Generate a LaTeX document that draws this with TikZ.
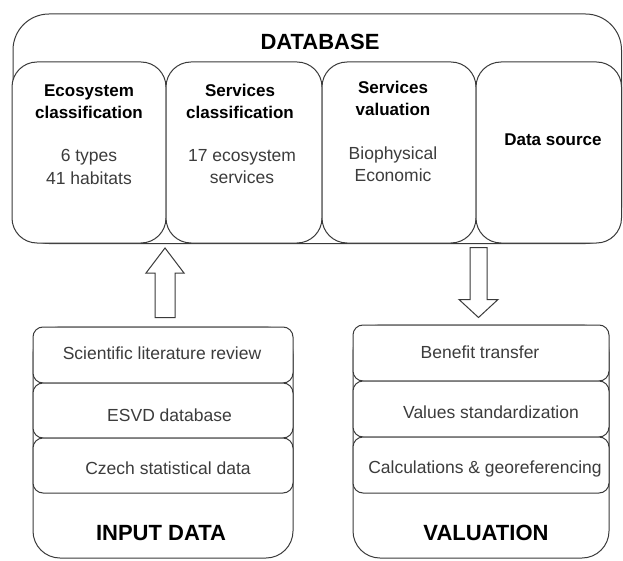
\documentclass[tikz,border=0pt]{standalone}
\usepackage{fontspec}
\setmainfont{Liberation Sans}
\usetikzlibrary{calc}
\definecolor{linec}{HTML}{3A3A3A}
\definecolor{txtc}{HTML}{3C3C3C}
\tikzset{
  line/.style={draw=linec, line width=1pt},
  dbouter/.style={line, rounded corners=36pt, minimum width=608.5pt, minimum height=229.5pt, inner sep=0pt},
  cell/.style={line, fill=white, rounded corners=25pt, minimum height=181pt, inner sep=0pt},
  stack/.style={line, rounded corners=27pt, inner sep=0pt},
  rowbox/.style={line, fill=white, rounded corners=10pt, inner sep=0pt},
  head/.style={font=\bfseries\fontsize{17}{22.5}\selectfont, align=center, inner sep=0pt, text=black},
  body/.style={font=\fontsize{17.5}{22.5}\selectfont, align=center, inner sep=0pt, text=txtc},
  title/.style={font=\bfseries\fontsize{22}{26}\selectfont, inner sep=0pt, text=black},
  hollow/.style={line, fill=white, line join=miter},
}
\newcommand\hollowarrow[5]{%
  \draw[hollow] let \p1=(#1), \p2=(#2), \p3=($(#2)!#5!(#1)$) in
    (\x1-#3,\y1) -- (\x1-#3,\y3) -- (\x1-#4,\y3) -- (\x2,\y2) --
    (\x1+#4,\y3) -- (\x1+#3,\y3) -- (\x1+#3,\y1) -- cycle;}
\begin{document}
\begin{tikzpicture}[x=1pt, y=-1pt]
\useasboundingbox (0,0) rectangle (623,561);
% DATABASE
\node[dbouter] (db) at (317.25,128.75) {};
\node[title] (dbt) at (320,42) {DATABASE};
\node[cell, minimum width=154pt] (c1) at (89,152.5) {};
\node[cell, minimum width=156pt] (c2) at (244,152.5) {};
\node[cell, minimum width=154pt] (c3) at (399,152.5) {};
\node[cell, minimum width=145.5pt] (c4) at (548.75,152.5) {};
\node[head] (h1) at (89,101.5) {Ecosystem\\classification};
\node[body] (b1) at (89,167) {6 types\\41 habitats};
\node[head] (h2) at (240,101.5) {Services\\classification};
\node[body] (b2) at (242,166.5) {17 ecosystem\\services};
\node[head] (h3) at (393,98.5) {Services\\valuation};
\node[body] (b3) at (393,164) {Biophysical\\Economic};
\node[head] (h4) at (553,140) {Data source};
% INPUT DATA
\node[stack, minimum width=260pt, minimum height=231pt] (inp) at (163,442.5) {};
\node[rowbox, minimum width=260pt, minimum height=56pt] (r1) at (163,355) {};
\node[rowbox, minimum width=260pt, minimum height=55pt] (r2) at (163,410.5) {};
\node[rowbox, minimum width=260pt, minimum height=55pt] (r3) at (163,465.5) {};
\node[body] (t1) at (162,353) {Scientific literature review};
\node[body] (t2) at (169.5,415) {ESVD database};
\node[body] (t3) at (168,468) {Czech statistical data};
\node[title] (tin) at (161,533) {INPUT DATA};
% VALUATION
\node[stack, minimum width=256pt, minimum height=233pt] (val) at (481,441.5) {};
\node[rowbox, minimum width=256pt, minimum height=56pt] (v1) at (481,353) {};
\node[rowbox, minimum width=256pt, minimum height=56pt] (v2) at (481,409) {};
\node[rowbox, minimum width=256pt, minimum height=56pt] (v3) at (481,465) {};
\node[body] (s1) at (480,352) {Benefit transfer};
\node[body] (s2) at (491,412) {Values standardization};
\node[body] (s3) at (485,469) {Calculations \& georeferencing};
\node[title] (tval) at (486,533) {VALUATION};
% arrows
\coordinate (upTail) at ($(inp.north)+(2,-9)$);
\coordinate (upTip) at ($(upTail |- db.south)+(0,4)$);
\coordinate (downTip) at ($(val.north)+(-2.5,-7)$);
\coordinate (downTail) at ($(downTip |- db.south)+(0,3.5)$);
\hollowarrow{upTail}{upTip}{10pt}{19pt}{25pt}
\hollowarrow{downTail}{downTip}{8.5pt}{19.5pt}{18pt}
\end{tikzpicture}
\end{document}
